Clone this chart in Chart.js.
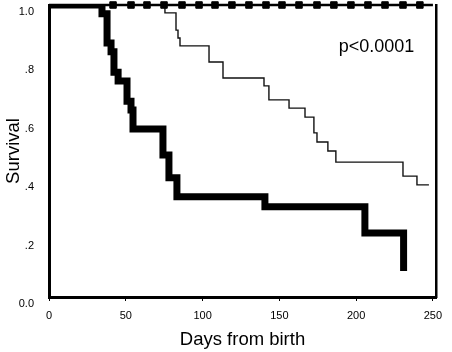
<!DOCTYPE html>
<html>
<head>
<meta charset="utf-8">
<script src="https://cdn.jsdelivr.net/npm/chart.js@4/dist/chart.umd.min.js"></script>
<style>
  html, body { margin: 0; padding: 0; background: #fff; }
  #wrap { width: 452px; height: 352px; }
</style>
</head>
<body>
<div id="wrap"><canvas id="myChart" width="452" height="352"></canvas></div>
<script>
// days of each step and survival value after the step
var thickDays   = [0, 34.5, 37.8, 40.4, 42.3, 45.0, 50.8, 53.4, 54.7, 74.2, 78.1, 83.3, 140.6, 205.7, 230.9];
var thickValues = [1.0, 0.97, 0.87, 0.84, 0.77, 0.74, 0.67, 0.64, 0.575, 0.486, 0.408, 0.343, 0.309, 0.219, 0.089];

var thinDays   = [0, 75.5, 82.7, 84.0, 85.3, 104.2, 113.3, 140.0, 143.2, 156.3, 166.7, 172.5, 174.5, 181.6, 186.8, 230.5, 239.6, 247.4];
var thinValues = [1.0, 0.973, 0.914, 0.887, 0.860, 0.805, 0.75, 0.723, 0.675, 0.647, 0.616, 0.562, 0.531, 0.50, 0.462, 0.414, 0.384, 0.384];

// group with no events, censored cases
var censorDays = [41.7, 53.4, 63.8, 74.9, 86.6, 97.7, 108.1, 119.1, 130.2, 141.3, 151.7, 162.8, 174.5, 185.5, 196.6, 207.7, 218.8, 230.5, 241.5];
var censorStart = 0;
var censorEnd = 250;

var xTicks = [0, 50, 100, 150, 200, 250];
var yTicks = [0, 0.2, 0.4, 0.6, 0.8, 1.0];

var pText = "p<0.0001";
var pDay = 213.2;
var pValue = 0.857;

var FONT = "'Liberation Sans', Arial, sans-serif";

function toPoints(days, vals) {
    var pts = [];
    for (var i = 0; i < days.length; i++) pts.push({x: days[i], y: vals[i]});
    return pts;
}

var topPts = [{x: censorStart, y: 1}];
var topRadius = [0];
for (var i = 0; i < censorDays.length; i++) {
    topPts.push({x: censorDays[i], y: 1});
    topRadius.push(4.6);
}
topPts.push({x: censorEnd, y: 1});
topRadius.push(0);

var textPlugin = {
    id: 'ptext',
    afterDatasetsDraw: function(chart) {
        var c = chart.ctx;
        var px = chart.scales.x.getPixelForValue(pDay);
        var py = chart.scales.y.getPixelForValue(pValue);
        c.save();
        c.fillStyle = '#000';
        c.font = '18px ' + FONT;
        c.textAlign = 'center';
        c.textBaseline = 'middle';
        c.fillText(pText, px, py);
        c.restore();
    }
};

var ctx = document.getElementById('myChart').getContext('2d');

var myChart = new Chart(ctx, {
    type: 'line',
    data: {
        datasets: [
            {
                label: 'censored',
                data: topPts,
                borderColor: '#000',
                backgroundColor: '#000',
                borderWidth: 2.5,
                pointStyle: 'rect',
                pointRadius: topRadius,
                pointBorderWidth: 1,
                clip: 8
            },
            {
                label: 'group 1',
                data: toPoints(thickDays, thickValues),
                borderColor: '#000',
                borderWidth: 7,
                stepped: 'before',
                pointRadius: 0,
                clip: {left: 0, top: 0, right: 8, bottom: 8}
            },
            {
                label: 'group 2',
                data: toPoints(thinDays, thinValues),
                borderColor: '#111',
                borderWidth: 1.4,
                stepped: 'before',
                pointRadius: 0
            }
        ]
    },
    options: {
        responsive: false,
        animation: false,
        events: [],
        layout: { padding: { left: 0, top: 5, right: 16, bottom: 0 } },
        plugins: {
            legend: { display: false },
            tooltip: { enabled: false }
        },
        scales: {
            x: {
                type: 'linear',
                min: 0,
                max: 252,
                afterFit: function(s) { s.height = 55; s.paddingLeft = 0; s.paddingRight = 0; },
                afterBuildTicks: function(s) { s.ticks = xTicks.map(function(v) { return {value: v}; }); },
                ticks: {
                    includeBounds: false,
                    color: '#000',
                    font: { family: FONT, size: 11 },
                    padding: 8,
                    maxRotation: 0
                },
                grid: { display: true, drawOnChartArea: false, drawTicks: true, tickLength: 4, color: '#000', lineWidth: 1 },
                border: { display: true, color: '#000', width: 3 },
                title: {
                    display: true,
                    text: 'Days from birth',
                    color: '#000',
                    font: { family: FONT, size: 18.5 },
                    padding: { top: 0, bottom: 1 }
                }
            },
            y: {
                min: 0,
                max: 1,
                afterFit: function(s) { s.width = 49; s.paddingTop = 0; s.paddingBottom = 0; },
                afterBuildTicks: function(s) { s.ticks = yTicks.map(function(v) { return {value: v}; }); },
                ticks: {
                    color: '#000',
                    font: { family: FONT, size: 11 },
                    padding: 7,
                    labelOffset: function(c) { return c.index === 0 ? 1 : 7; },
                    callback: function(v) {
                        if (v === 0) return '0.0';
                        if (v === 1) return '1.0';
                        return v.toFixed(1).replace(/^0/, '');
                    }
                },
                grid: { display: false },
                border: { display: true, color: '#000', width: 3 },
                title: {
                    display: true,
                    text: 'Survival',
                    color: '#000',
                    font: { family: FONT, size: 18.5 },
                    padding: { top: 3, bottom: 0 }
                }
            },
            y2: {
                position: 'right',
                min: 0,
                max: 1,
                afterFit: function(s) { s.width = 0; s.paddingTop = 0; s.paddingBottom = 0; },
                ticks: { display: false },
                grid: { display: false },
                border: { display: true, color: '#000', width: 2.5 }
            }
        }
    },
    plugins: [textPlugin]
});
</script>
</body>
</html>
